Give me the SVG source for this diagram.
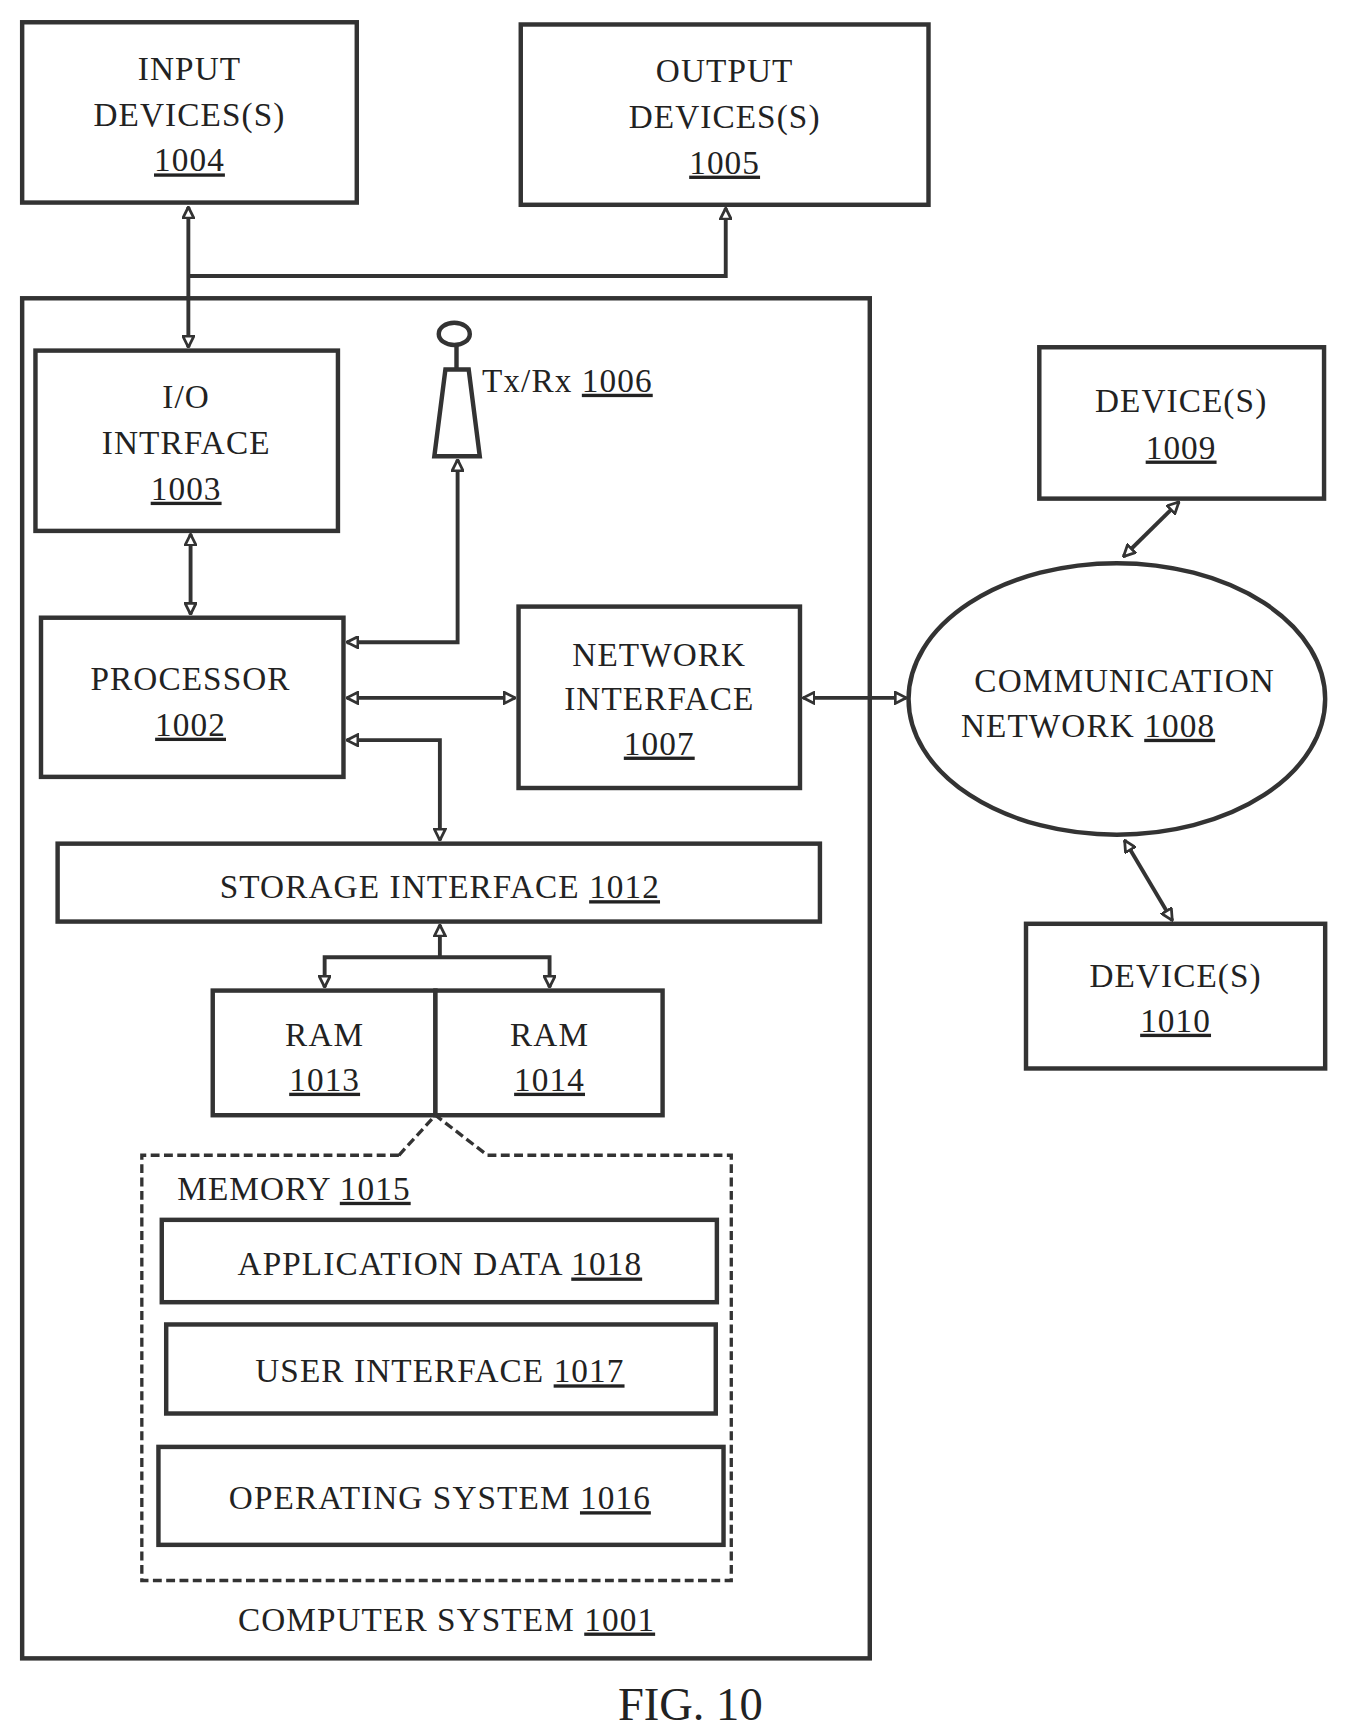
<svg xmlns="http://www.w3.org/2000/svg" width="1346" height="1736" viewBox="0 0 1346 1736">
<defs>
<marker id="ah" viewBox="0 0 12 12" refX="11" refY="6" markerWidth="12" markerHeight="12" markerUnits="userSpaceOnUse" orient="auto-start-reverse">
<path d="M1,1 L11,6 L1,11 Z" fill="#fff" stroke="#333" stroke-width="2.5"/>
</marker>
</defs>
<style>
.b{fill:#fff;stroke:#333;stroke-width:4}
.d{fill:none;stroke:#333;stroke-width:3;stroke-dasharray:8 4}
.t{font-family:"Liberation Serif",serif;font-size:30px;fill:#222;text-anchor:middle;letter-spacing:1px}
.c{fill:none;stroke:#333;stroke-width:3.5;marker-start:url(#ah);marker-end:url(#ah)}
.u{text-decoration:underline}
</style>
<rect width="1346" height="1736" fill="#fff"/>
<g transform="scale(1.108,1.113)">
<g id="n1001"><rect class="b" x="20" y="268" width="765" height="1222"/><text class="t" x="403" y="1465">COMPUTER SYSTEM <tspan class="u">1001</tspan></text></g>
<g id="n1004"><rect class="b" x="20" y="20" width="302" height="162"/><text class="t" x="171" y="72">INPUT</text><text class="t" x="171" y="113">DEVICES(S)</text><text class="t u" x="171" y="154">1004</text></g>
<g id="n1005"><rect class="b" x="470" y="22" width="368" height="162"/><text class="t" x="654" y="74">OUTPUT</text><text class="t" x="654" y="115">DEVICES(S)</text><text class="t u" x="654" y="156">1005</text></g>
<g id="n1003"><rect class="b" x="32" y="315" width="273" height="162"/><text class="t" x="168" y="367">I/O</text><text class="t" x="168" y="408">INTRFACE</text><text class="t u" x="168" y="449">1003</text></g>
<g id="n1002"><rect class="b" x="37" y="555" width="273" height="143"/><text class="t" x="172" y="620">PROCESSOR</text><text class="t u" x="172" y="661">1002</text></g>
<g id="n1006"><ellipse cx="410" cy="300" rx="14" ry="10" fill="#fff" stroke="#333" stroke-width="4"/><line x1="412" y1="310" x2="412" y2="332" stroke="#333" stroke-width="4"/><path d="M402,332 L423,332 L433,410 L392,410 Z" fill="#fff" stroke="#333" stroke-width="4"/><text class="t" x="435" y="352" style="text-anchor:start">Tx/Rx <tspan class="u">1006</tspan></text></g>
<g id="n1007"><rect class="b" x="468" y="545" width="254" height="163"/><text class="t" x="595" y="598">NETWORK</text><text class="t" x="595" y="638">INTERFACE</text><text class="t u" x="595" y="678">1007</text></g>
<g id="n1012"><rect class="b" x="52" y="758" width="688" height="70"/><text class="t" x="397" y="807">STORAGE INTERFACE <tspan class="u">1012</tspan></text></g>
<g id="n1013"><rect class="b" x="192" y="890" width="201" height="112"/><text class="t" x="293" y="940">RAM</text><text class="t u" x="293" y="980">1013</text></g>
<g id="n1014"><rect class="b" x="393" y="890" width="205" height="112"/><text class="t" x="496" y="940">RAM</text><text class="t u" x="496" y="980">1014</text></g>
<g id="n1015"><path class="d" d="M360,1038 L128,1038 L128,1420 L660,1420 L660,1038 L440,1038 L393,1002 L360,1038"/><text class="t" x="160" y="1078" style="text-anchor:start">MEMORY <tspan class="u">1015</tspan></text></g>
<g id="n1018"><rect class="b" x="146" y="1096" width="501" height="74"/><text class="t" x="397" y="1146">APPLICATION DATA <tspan class="u">1018</tspan></text></g>
<g id="n1017"><rect class="b" x="150" y="1190" width="496" height="80"/><text class="t" x="397" y="1242">USER INTERFACE <tspan class="u">1017</tspan></text></g>
<g id="n1016"><rect class="b" x="143" y="1300" width="510" height="88"/><text class="t" x="397" y="1356">OPERATING SYSTEM <tspan class="u">1016</tspan></text></g>
<g id="n1008"><ellipse cx="1008" cy="628" rx="188" ry="122" fill="#fff" stroke="#333" stroke-width="4"/><text class="t" x="1015" y="622">COMMUNICATION</text><text class="t" x="982" y="662">NETWORK <tspan class="u">1008</tspan></text></g>
<g id="n1009"><rect class="b" x="938" y="312" width="257" height="136"/><text class="t" x="1066" y="370">DEVICE(S)</text><text class="t u" x="1066" y="412">1009</text></g>
<g id="n1010"><rect class="b" x="926" y="830" width="270" height="130"/><text class="t" x="1061" y="887">DEVICE(S)</text><text class="t u" x="1061" y="927">1010</text></g>
<g id="connectors">
<path class="c" d="M170,186 L170,312"/>
<path class="c" d="M170,248 L655,248 L655,187" style="marker-start:none"/>
<path class="c" d="M172,480 L172,552"/>
<path class="c" d="M313,577 L413,577 L413,413"/>
<path class="c" d="M313,627 L465,627"/>
<path class="c" d="M313,665 L397,665 L397,755"/>
<path class="c" d="M397,831 L397,860" style="marker-end:none"/>
<path class="c" d="M293,887 L293,860 L496,860 L496,887"/>
<path class="c" d="M725,627 L818,627"/>
<path class="c" d="M1014,500 L1064,451"/>
<path class="c" d="M1015,755 L1058,827"/>
</g>
<text x="623" y="1545" style="font-family:'Liberation Serif',serif;font-size:42px;fill:#222;text-anchor:middle">FIG. 10</text>
</g>
</svg>
